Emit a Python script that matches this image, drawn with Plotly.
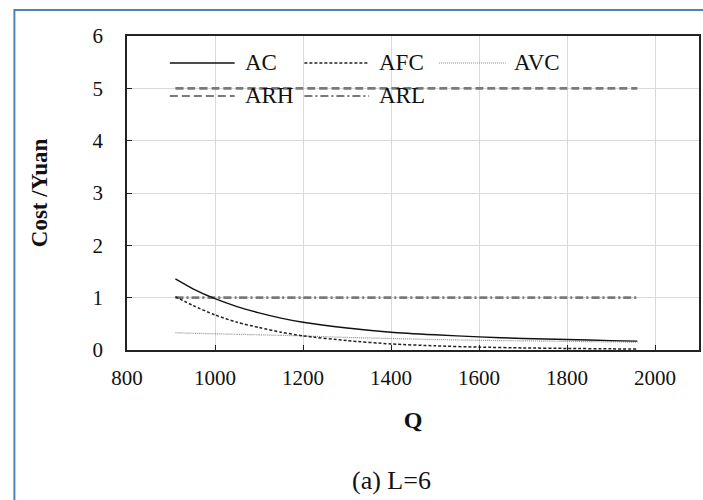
import plotly.graph_objects as go

# Output quantity Q and average cost / revenue series (Yuan)
q = [910, 950, 1000, 1050, 1100, 1150, 1200, 1300, 1400, 1500, 1600, 1700, 1800, 1900, 1960]
ac = [1.36, 1.17, 0.98, 0.83, 0.71, 0.61, 0.53, 0.42, 0.34, 0.29, 0.25, 0.22, 0.20, 0.18, 0.17]
afc = [1.02, 0.85, 0.67, 0.53, 0.43, 0.34, 0.27, 0.18, 0.115, 0.08, 0.055, 0.04, 0.03, 0.022, 0.02]
avc = [0.33, 0.32, 0.31, 0.30, 0.29, 0.28, 0.27, 0.24, 0.22, 0.20, 0.185, 0.175, 0.165, 0.155, 0.15]
arh_level = 5
arl_level = 1
arh = [arh_level for _ in q]
arl = [arl_level for _ in q]

x_ticks = [800, 1000, 1200, 1400, 1600, 1800, 2000]
y_ticks = [0, 1, 2, 3, 4, 5, 6]

FONT = "Liberation Serif, Times New Roman, serif"
W, H = 703, 500
ML, MR, MT, MB = 127, 2, 36, 150
PW, PH = W - ML - MR, H - MT - MB


def px(x):
    return (x - ML) / PW


def py(y):
    return (H - MB - y) / PH


styles = {
    "AC": dict(color="#111111", width=1.4, dash="solid"),
    "AFC": dict(color="#222222", width=1.5, dash="3px,2px"),
    "AVC": dict(color="#8c8c8c", width=1.2, dash="1px,1px"),
    "ARH": dict(color="#7a7a7a", width=2.6, dash="8px,4px"),
    "ARL": dict(color="#7a7a7a", width=2.6, dash="8px,3px,2px,3px"),
}
series = {"AC": ac, "AFC": afc, "AVC": avc, "ARH": arh, "ARL": arl}

fig = go.Figure()
for name in ["ARH", "ARL", "AVC", "AFC", "AC"]:
    fig.add_trace(go.Scatter(
        x=q, y=series[name], mode="lines", name=name,
        line=dict(shape="spline", smoothing=0.6, **styles[name]),
        showlegend=False, hoverinfo="skip",
    ))

# Legend drawn as sample lines with labels, two rows
legend_items = [
    ("AC", 170, 235, 243, 63),
    ("AFC", 305, 370, 378, 63),
    ("AVC", 440, 507, 513, 63),
    ("ARH", 170, 235, 243, 96),
    ("ARL", 305, 370, 378, 96),
]
shapes = []
annotations = []
for name, x0, x1, tx, yy in legend_items:
    st = styles[name]
    shapes.append(dict(type="line", xref="paper", yref="paper",
                       x0=px(x0), x1=px(x1), y0=py(yy), y1=py(yy),
                       line=dict(color=st["color"], width=min(st["width"], 2.2), dash=st["dash"])))
    annotations.append(dict(text=name, xref="paper", yref="paper", x=px(tx), y=py(yy),
                            xanchor="left", yanchor="middle", showarrow=False,
                            font=dict(family=FONT, size=23, color="#111111")))

# Outer blue frame
shapes.append(dict(type="rect", xref="paper", yref="paper", layer="above",
                   x0=px(14), x1=px(W + 20), y0=py(H + 20), y1=py(10),
                   line=dict(color="#4f81bd", width=2)))

annotations.append(dict(text="(a) L=6", xref="paper", yref="paper", x=px(392), y=py(480),
                        xanchor="center", yanchor="middle", showarrow=False,
                        font=dict(family=FONT, size=26, color="#111111")))

fig.update_layout(
    width=W, height=H,
    margin=dict(l=ML, r=MR, t=MT, b=MB),
    paper_bgcolor="white", plot_bgcolor="white",
    font=dict(family=FONT, size=21, color="#111111"),
    shapes=shapes, annotations=annotations,
    xaxis=dict(
        range=[800, 2100], tickvals=x_ticks, ticktext=[str(v) for v in x_ticks],
        showgrid=True, gridcolor="#d9d9d9", gridwidth=1,
        showline=True, linecolor="#222222", linewidth=1.5, mirror=True,
        ticks="inside", ticklen=5, tickcolor="#222222",
        ticklabelstandoff=8,
        zeroline=False,
        title=dict(text="<b>Q</b>", font=dict(family=FONT, size=24), standoff=22),
    ),
    yaxis=dict(
        range=[0, 6], tickvals=y_ticks,
        showgrid=True, gridcolor="#d9d9d9", gridwidth=1,
        showline=True, linecolor="#222222", linewidth=1.5, mirror=True,
        ticks="inside", ticklen=5, tickcolor="#222222",
        ticklabelstandoff=18,
        zeroline=False,
        title=dict(text="<b>Cost /Yuan</b>", font=dict(family=FONT, size=23), standoff=38),
    ),
)

fig.write_html("out.html")
